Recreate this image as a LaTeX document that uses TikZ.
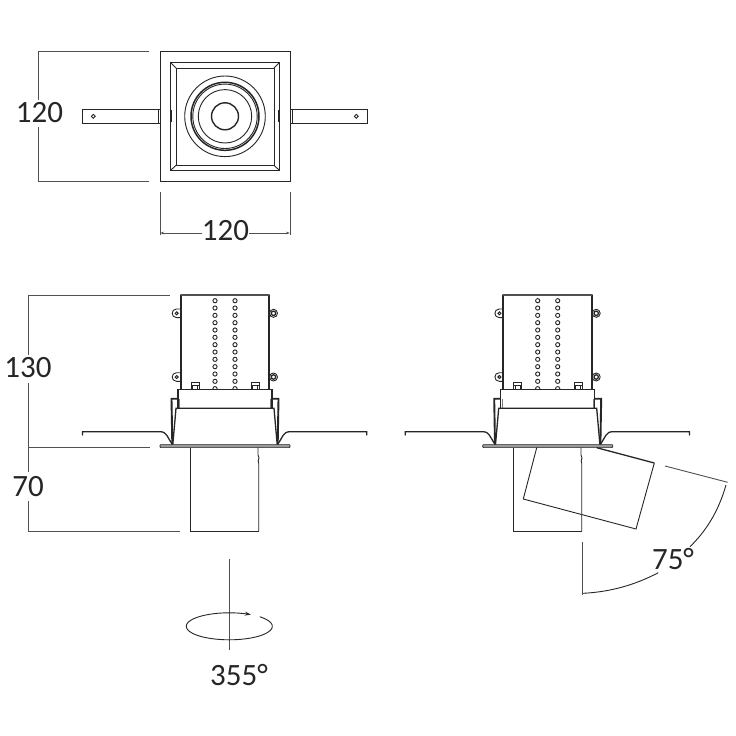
\documentclass[tikz,border=0pt]{standalone}
\usepackage{fontspec}
\setmainfont{Carlito}
\usetikzlibrary{arrows.meta}
\definecolor{ink}{HTML}{262626}
\definecolor{dimgrey}{HTML}{505050}
\definecolor{flangegrey}{HTML}{9A9A9A}
\tikzset{
  thin line/.style={draw=ink,line width=0.9pt},
  mid line/.style={draw=ink,line width=1.3pt},
  thick line/.style={draw=ink,line width=1.9pt,line cap=round,line join=round},
  dim line/.style={draw=dimgrey,line width=0.9pt},
  dim text/.style={font=\fontsize{31}{31}\selectfont,text=ink,inner sep=0pt,anchor=center},
  tiptiny/.style={-{Stealth[length=4pt,width=2.5pt]}},
}
\newcommand{\sideviewbody}{%
  % wings
  \draw[mid line,line cap=round] (82.5,435) -- (82.5,431.7) -- (160,431.7)
     .. controls (167,431.7) and (167,437) .. (172.5,444.5);
  \draw[mid line,line cap=round] (366.8,435) -- (366.8,431.7) -- (290,431.7)
     .. controls (283,431.7) and (283,437) .. (277.5,444.5);
  % perforations
  \foreach \k in {0,...,12}{
    \draw[thin line] (215,300.7+\k*7.33) circle (2.1);
    \draw[thin line] (235,300.7+\k*7.33) circle (2.1);
  }
  % lugs
  \foreach \yy in {313.3,377}{
    \draw[thin line,fill=white] (181,\yy-4.3) -- (176.5,\yy-4.3)
       .. controls (170.8,\yy-4.3) and (170.8,\yy+4.3) .. (176.5,\yy+4.3) -- (181,\yy+4.3);
    \draw[thin line,line width=1pt] (176.7,\yy) circle (1.5);
    \draw[thin line,fill=white] (273.5,\yy) circle (4);
    \draw[thin line,line width=1.3pt] (273.5,\yy) circle (2.2);
  }
  % body
  \draw[thick line] (180.7,389.3) -- (180.7,295);
  \draw[thick line] (269.3,389.3) -- (269.3,295);
  \draw[mid line,draw=ink!80] (180.7,295) -- (269.3,295);
  % clips
  \foreach \xx in {191,251.3}{
    \draw[thin line,fill=white] (\xx,389.3) -- (\xx,382.5) -- (\xx+8,382.5) -- (\xx+8,389.3);
    \draw[thin line] (\xx,385) -- (\xx+8,385);
    \draw[thin line] (\xx+1.5,385) -- (\xx+1.5,389.3);
    \draw[thin line] (\xx+6.5,385) -- (\xx+6.5,389.3);
  }
  % collar
  \draw[mid line,fill=white] (178,408.3) -- (178,389.3) -- (272,389.3) -- (272,408.3);
  \draw[thin line,draw=ink!60] (179.7,398.5) -- (179.7,408.3);
  \draw[thin line,draw=ink!60] (270.3,398.5) -- (270.3,408.3);
  % bracket
  \draw[thick line] (177.5,398.7) -- (171.5,398.7) -- (172.3,444.5);
  \draw[thick line] (272.5,398.7) -- (278.5,398.7) -- (277.7,444.5);
  % shade
  \draw[mid line,fill=white] (172.8,444.5) -- (176,408.3) -- (274,408.3) -- (277.2,444.5);
  % flange
  \draw[draw=ink,line width=0.7pt,fill=flangegrey,rounded corners=0.8pt]
     (160,444.6) rectangle (290,447.6);
}
\begin{document}
\begin{tikzpicture}[x=1pt,y=-1pt]
\useasboundingbox (0,0) rectangle (736,736);
\fill[white] (0,0) rectangle (736,736);

% ---------- top view
\draw[thin line,line width=0.9pt] (160,51.7) rectangle (290,181);
\draw[mid line] (170.7,62.7) rectangle (279.3,170.3);
\draw[thin line] (176,68) rectangle (274,165.3);
\draw[thin line] (170.7,62.7) -- (176,68) (279.3,62.7) -- (274,68)
                 (170.7,170.3) -- (176,165.3) (279.3,170.3) -- (274,165.3);
\draw[thin line] (171.5,110) -- (171.5,122) (278.5,110) -- (278.5,122);
\draw[thin line] (225,116.3) circle (40.3);
\draw[mid line,line width=1.5pt] (225,116.3) circle (34);
\draw[thin line] (225,116.3) circle (32.2);
\draw[thin line] (225,116.3) circle (26.7);
\draw[mid line,line width=1.4pt] (225,116.3) circle (13.5);
% ears
\draw[mid line] (160,109.7) -- (82.5,109.7) -- (82.5,123.3) -- (160,123.3);
\draw[thin line] (158,109.7) -- (158,123.3);
\draw[mid line] (290,109.7) -- (367.3,109.7) -- (367.3,123.3) -- (290,123.3);
\draw[thin line] (292,109.7) -- (292,123.3);
\draw[thin line] (93.3,116.3) circle (1.9);
\draw[thin line] (356.3,116.3) circle (1.9);

% ---------- side views
\sideviewbody
\draw[thin line] (190.7,447.6) -- (190.7,531) -- (258.7,531);
\draw[thin line] (258.7,531) -- (258.7,463) -- (258.2,461) -- (259,458) -- (258,455) -- (258,447.6);
\begin{scope}[xshift=322.7pt]
\sideviewbody
\end{scope}
\draw[thin line] (513.7,447.6) -- (513.7,531) -- (581.7,531);
\draw[thin line] (581.7,531) -- (581.7,463) -- (581.2,461) -- (582,458) -- (581,455) -- (581,447.6);
% tilted fixture
\draw[thin line] (536.7,447.7) -- (523.3,499) -- (636,529) -- (654.3,463);
\draw[mid line] (596.7,447.7) -- (654.3,463);

% ---------- dimensions: top view
\node[dim text] (wtop) at (225.5,231) {120};
\node[dim text] (htop) at (39.5,113) {120};
\draw[dim line] (38,51.7) -- (38,100);
\draw[dim line] (38,127) -- (38,181);
\draw[dim line] (38,51.7) -- (149,51.7);
\draw[dim line] (38,181) -- (149,181);
\coordinate (wL) at (160,233); \coordinate (wR) at (290,233);
\coordinate (wtL) at (wtop.west |- wL); \coordinate (wtR) at (wtop.east |- wR);
\draw[dim line] (160,192) -- (160,235);
\draw[dim line] (290,192) -- (290,235);
\draw[dim line,tiptiny] (wtL) -- (wL);
\draw[dim line,tiptiny] (wtR) -- (wR);

% ---------- dimensions: side view
\node[dim text] (h130) at (28,368) {130};
\node[dim text] (h70) at (28,487) {70};
\draw[dim line] (28,295) -- (170,295);
\draw[dim line] (28,447) -- (150,447);
\draw[dim line] (28,531) -- (180,531);
\draw[dim line] (28,295) -- (28,355);
\draw[dim line] (28,383) -- (28,447);
\draw[dim line] (28,447) -- (28,472);
\draw[dim line] (28,501) -- (28,531);

% ---------- tilt
\node[dim text] (tilt) at (673,559) {75°};
\draw[dim line] (582,542.3) -- (582,595);
\draw[dim line] (665,466) -- (727.7,482.3);
\draw[thin line] (726,485) .. controls (718,513) and (705,532) .. (690,546.7);
\draw[thin line] (658.3,572.7) .. controls (635,585) and (610,592) .. (583,593.3);

% ---------- rotation
\node[dim text] (rot) at (239,675) {355°};
\draw[dim line] (229,559) -- (229,650);
\draw[thin line,-{Stealth[length=6pt,width=4pt]}]
   plot[smooth,samples=90,domain=45:-300,variable=\t]
   ({229.3+43*cos(\t)},{626.3-13.5*sin(\t)});
\end{tikzpicture}
\end{document}
